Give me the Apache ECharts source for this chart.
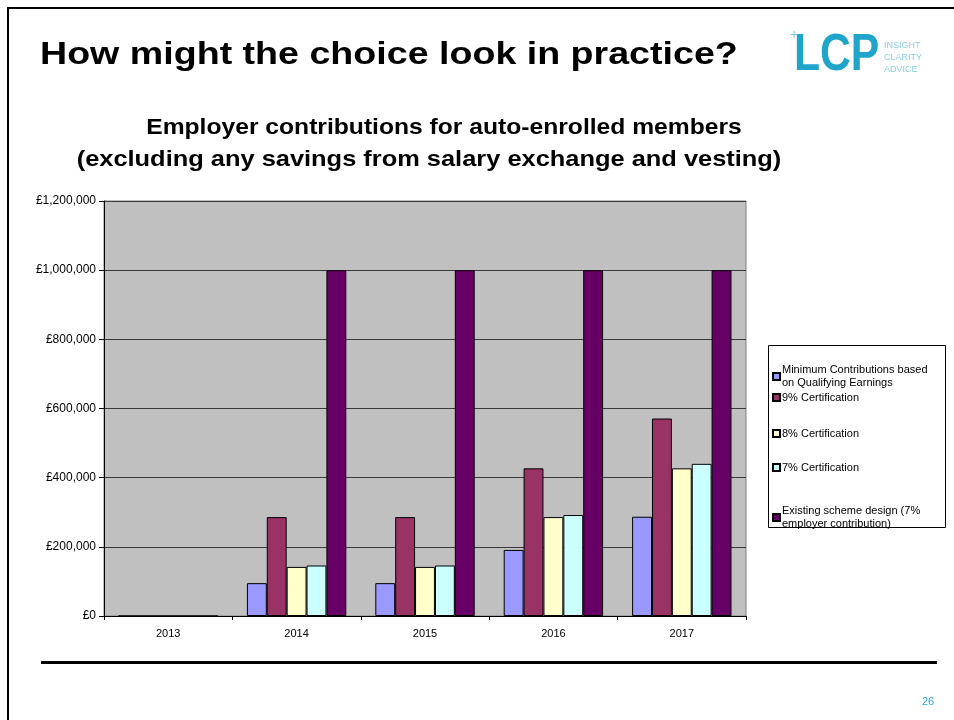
<!DOCTYPE html>
<html>
<head>
<meta charset="utf-8">
<script src="https://cdn.jsdelivr.net/npm/echarts@6/dist/echarts.min.js"></script>
<style>
html,body{margin:0;padding:0;background:#fff;}
#c{width:954px;height:720px;}
</style>
</head>
<body>
<div id="c"></div>
<script>
const years = ['2013', '2014', '2015', '2016', '2017'];
const seriesNames = [
  'Minimum Contributions based\non Qualifying Earnings',
  '9% Certification',
  '8% Certification',
  '7% Certification',
  'Existing scheme design (7%\nemployer contribution)'
];
const minQE    = [0, 95000, 95000, 191000, 287000];
const cert9    = [0, 286000, 286000, 427000, 571000];
const cert8    = [0, 142000, 142000, 286000, 427000];
const cert7    = [0, 146000, 146000, 292000, 440000];
const existing = [0, 1000000, 1000000, 1000000, 1000000];
const yTicks = [0, 200000, 400000, 600000, 800000, 1000000, 1200000];

const colors = ['#9999FF', '#993366', '#FFFFCC', '#CCFFFF', '#660066'];
const values = [minQE, cert9, cert8, cert7, existing];
const FONT = '"Liberation Sans", Arial, sans-serif';

function fmt(v) {
  return '£' + String(v).replace(/\B(?=(\d{3})+(?!\d))/g, ',');
}

const legendTops = [357, 391, 427, 461, 498];
const legends = seriesNames.map((n, i) => ({
  data: [n],
  left: 772,
  top: legendTops[i],
  orient: 'vertical',
  padding: 0,
  itemWidth: 7,
  itemHeight: 7,
  itemGap: 0,
  selectedMode: false,
  icon: 'rect',
  textStyle: {
    fontFamily: FONT,
    fontSize: 11,
    color: '#000',
    lineHeight: 13,
    padding: n.indexOf('\n') >= 0 ? [13, 0, 0, -3] : [0, 0, 0, -3]
  }
}));

const chart = echarts.init(document.getElementById('c'), null, {renderer: 'canvas'});
chart.setOption({
  animation: false,
  backgroundColor: '#fff',
  grid: {
    left: 104, top: 201, width: 642, height: 415,
    show: true, backgroundColor: '#C0C0C0', borderColor: '#808080', borderWidth: 1
  },
  legend: legends,
  xAxis: {
    type: 'category',
    data: years,
    z: 5,
    axisLine: {lineStyle: {color: '#000', width: 1}},
    axisTick: {show: true, length: 4, lineStyle: {color: '#000'}},
    axisLabel: {fontFamily: FONT, fontSize: 11, color: '#000', margin: 12},
    splitLine: {show: false}
  },
  yAxis: {
    type: 'value',
    min: 0, max: 1200000, interval: 200000,
    axisLine: {show: true, lineStyle: {color: '#000', width: 1}},
    axisTick: {show: true, length: 5, lineStyle: {color: '#000'}},
    axisLabel: {fontFamily: FONT, fontSize: 12, color: '#000', margin: 8, formatter: fmt},
    splitLine: {show: true, lineStyle: {color: '#3a3a3a', width: 1}}
  },
  series: seriesNames.map((n, i) => ({
    name: n,
    type: 'bar',
    data: values[i],
    barGap: '0%',
    barCategoryGap: '22.6%',
    itemStyle: {color: colors[i], borderColor: '#000', borderWidth: 1}
  })),
  graphic: [
    {type: 'rect', shape: {x: 8, y: 7, width: 960, height: 2}, style: {fill: '#000'}, silent: true},
    {type: 'rect', shape: {x: 7, y: 7, width: 2, height: 720}, style: {fill: '#000'}, silent: true},
    {type: 'rect', shape: {x: 41, y: 661, width: 896, height: 3}, style: {fill: '#000'}, silent: true},
    {type: 'rect', z: -1, shape: {x: 768.5, y: 345.5, width: 177, height: 182}, style: {fill: '#fff', stroke: '#000', lineWidth: 1}, silent: true},
    {type: 'text', x: 40, y: 55, scaleX: 1.175, style: {text: 'How might the choice look in practice?', font: 'bold 32px ' + FONT, fill: '#000', textVerticalAlign: 'middle'}},
    {type: 'text', x: 444, y: 128, scaleX: 1.12, style: {text: 'Employer contributions for auto-enrolled members', font: 'bold 22px ' + FONT, fill: '#000', textAlign: 'center', textVerticalAlign: 'middle'}},
    {type: 'text', x: 429, y: 160, scaleX: 1.155, style: {text: '(excluding any savings from salary exchange and vesting)', font: 'bold 22px ' + FONT, fill: '#000', textAlign: 'center', textVerticalAlign: 'middle'}},
    {type: 'text', x: 794, y: 56, scaleX: 0.82, style: {text: 'LCP', font: 'bold 52px ' + FONT, fill: '#1EA5C9', textVerticalAlign: 'middle'}},
    {type: 'text', x: 794, y: 35, style: {text: '+', font: '14px ' + FONT, fill: '#7fc8dc', textAlign: 'center', textVerticalAlign: 'middle'}},
    {type: 'text', x: 884, y: 46, style: {text: 'INSIGHT', font: '9px ' + FONT, fill: '#8ccfe0', textVerticalAlign: 'middle'}},
    {type: 'text', x: 884, y: 58, style: {text: 'CLARITY', font: '9px ' + FONT, fill: '#8ccfe0', textVerticalAlign: 'middle'}},
    {type: 'text', x: 884, y: 70, style: {text: 'ADVICE', font: '9px ' + FONT, fill: '#8ccfe0', textVerticalAlign: 'middle'}},
    {type: 'text', x: 928, y: 702, style: {text: '26', font: '11px ' + FONT, fill: '#29a9d0', textAlign: 'center', textVerticalAlign: 'middle'}}
  ]
});
</script>
</body>
</html>
